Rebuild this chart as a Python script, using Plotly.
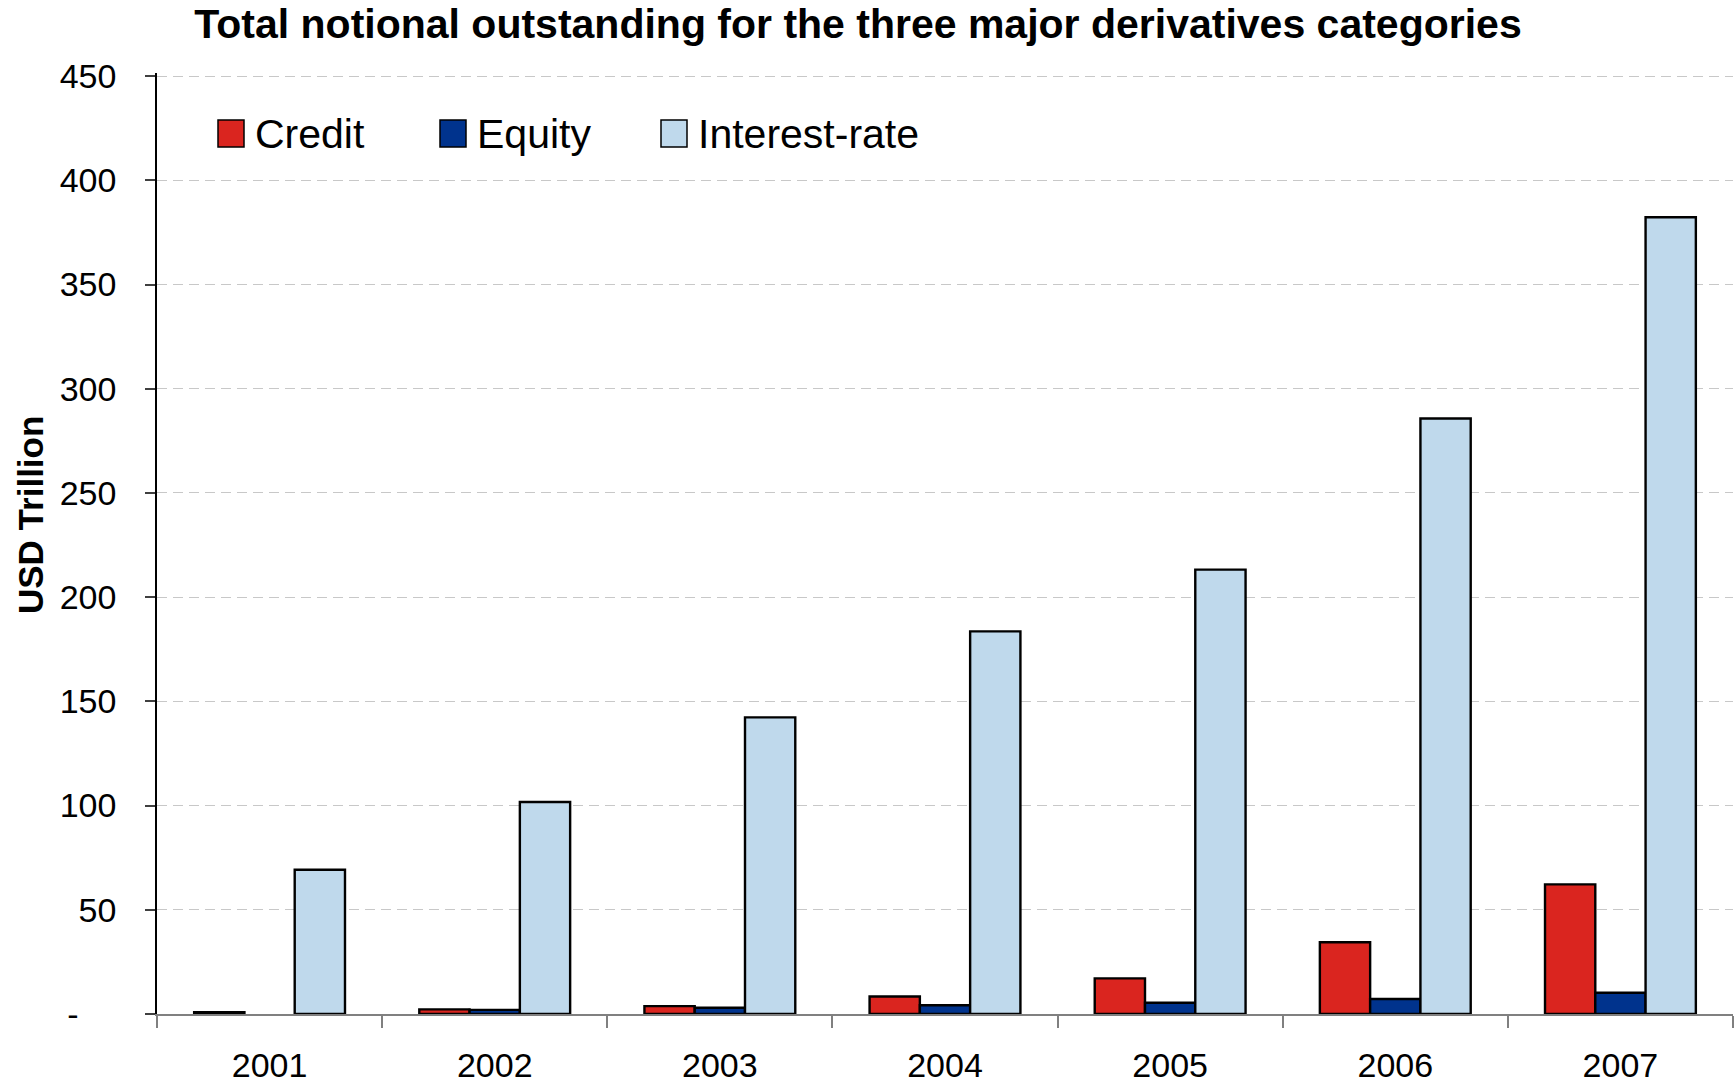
import plotly.graph_objects as go

# Year-end notional amounts outstanding, USD trillion
years = ["2001", "2002", "2003", "2004", "2005", "2006", "2007"]
credit = [0.9, 2.2, 3.8, 8.4, 17.1, 34.4, 62.2]
equity = [None, 2.0, 3.0, 4.2, 5.4, 7.2, 10.2]
interest_rate = [69.2, 101.7, 142.3, 183.6, 213.2, 285.7, 382.3]

series_names = ["Credit", "Equity", "Interest-rate"]
series_values = [credit, equity, interest_rate]
series_colors = ["#DA251F", "#00338D", "#BFD9EC"]

y_tickvals = [0, 50, 100, 150, 200, 250, 300, 350, 400, 450]
y_ticktext = ["-\u00a0\u00a0\u00a0\u00a0", "50", "100", "150", "200", "250",
              "300", "350", "400", "450"]

FONT = "Liberation Sans, Arial, sans-serif"

fig = go.Figure()
for name, vals, color in zip(series_names, series_values, series_colors):
    fig.add_trace(go.Bar(
        x=years, y=vals, name=name,
        marker=dict(color=color, line=dict(color="#000000", width=2.4)),
        showlegend=False,
    ))

# Legend row drawn as swatches + labels across the top of the plot
W, H = 1736, 1084
L, R, T, B = 157, 3, 73, 70
pw, ph = W - L - R, H - T - B
legend_x = [218, 440, 661]
for name, color, lx in zip(series_names, series_colors, legend_x):
    x0 = (lx - L) / pw
    x1 = (lx + 26 - L) / pw
    y0 = (H - B - 147) / ph
    y1 = (H - B - 120) / ph
    fig.add_shape(type="rect", xref="paper", yref="paper",
                  x0=x0, x1=x1, y0=y0, y1=y1,
                  fillcolor=color, line=dict(color="#000000", width=1.5))
    fig.add_annotation(xref="paper", yref="paper", x=(lx + 35 - L) / pw,
                       y=(y0 + y1) / 2, text=name, showarrow=False,
                       xanchor="left", yanchor="middle",
                       font=dict(family=FONT, size=41, color="#000000"))

fig.add_annotation(xref="paper", yref="paper", x=(30 - L) / pw,
                   y=(H - B - 515) / ph, text="<b>USD Trillion</b>",
                   textangle=-90, showarrow=False,
                   xanchor="center", yanchor="middle",
                   font=dict(family=FONT, size=35, color="#000000"))

fig.update_layout(
    width=W, height=H,
    margin=dict(l=L, r=R, t=T, b=B, pad=0),
    paper_bgcolor="#FFFFFF", plot_bgcolor="#FFFFFF",
    barmode="group", bargap=0.33, bargroupgap=0,
    font=dict(family=FONT, size=34, color="#000000"),
    title=dict(text="<b>Total notional outstanding for the three major derivatives categories</b>",
               x=858 / W, xanchor="center", y=1 - 24 / H, yanchor="middle",
               font=dict(family=FONT, size=41, color="#000000")),
    xaxis=dict(
        type="category", tickson="boundaries", ticks="outside", ticklen=12,
        tickcolor="#808080", tickwidth=1.5,
        showline=True, linecolor="#808080", linewidth=2,
        showgrid=False, ticklabelstandoff=20, automargin=False,
        tickfont=dict(family=FONT, size=34, color="#000000"),
    ),
    yaxis=dict(
        range=[0, 451.5], tickvals=y_tickvals, ticktext=y_ticktext,
        ticks="outside", ticklen=10, tickcolor="#404040", tickwidth=1.5,
        showline=True, linecolor="#000000", linewidth=1.5,
        showgrid=True, gridcolor="#C8C8C8", gridwidth=1, griddash="10px,6px",
        zeroline=False, ticklabelstandoff=22, automargin=False,
        tickfont=dict(family=FONT, size=34, color="#000000"),
    ),
)

fig.write_html("out.html")
